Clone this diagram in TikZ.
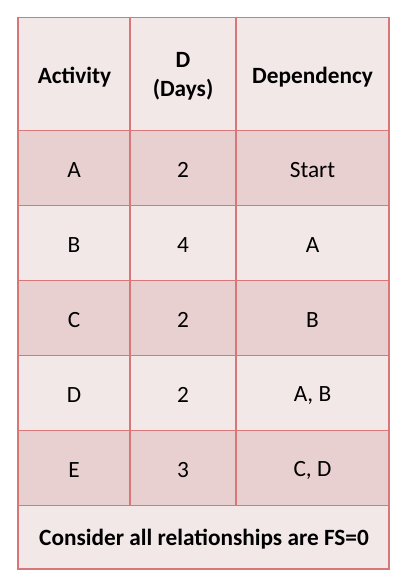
\documentclass[tikz,border=0pt]{standalone}
\usepackage{fontspec}
\setmainfont{Carlito}
\definecolor{lightrow}{HTML}{F3E8E8}
\definecolor{darkrow}{HTML}{E8CFD0}
\definecolor{gridline}{HTML}{D7777A}
\tikzset{
  cell/.style={font=\fontsize{23.3}{29}\selectfont, text=black, align=center, inner sep=0pt},
  head/.style={cell, font=\fontsize{23.3}{29}\selectfont\bfseries},
  grid/.style={draw=gridline, line width=1.5pt}
}
\begin{document}
\begin{tikzpicture}[x=1pt,y=-1pt]
\useasboundingbox (0,0) rectangle (402,581);
% fills
\fill[lightrow] (18,17.5) rectangle (389,130.7);
\fill[darkrow] (18,130.7) rectangle (389,205.7);
\fill[lightrow] (18,205.7) rectangle (389,280.7);
\fill[darkrow] (18,280.7) rectangle (389,355.7);
\fill[lightrow] (18,355.7) rectangle (389,430.7);
\fill[darkrow] (18,430.7) rectangle (389,505.7);
\fill[lightrow] (18,505.7) rectangle (389,569);
% grid
\draw[grid] (18,17.5) rectangle (389,569);
\foreach \yy in {130.7,205.7,280.7,355.7,430.7,505.7}
  \draw[grid] (18,\yy) -- (389,\yy);
\draw[grid] (130,17.5) -- (130,505.7);
\draw[grid] (236,17.5) -- (236,505.7);
% header
\node[head] (h1) at (74.5,77) {Activity};
\node[head] (h2) at (183,76.5) {D\\(Days)};
\node[head] (h3) at (312.5,77) {Dependency};
% rows
\node[cell] (a1) at (74,170.2) {A};
\node[cell] (a2) at (183,170.2) {2};
\node[cell] (a3) at (312.5,170.2) {Start};
\node[cell] (b1) at (74,245.2) {B};
\node[cell] (b2) at (183,245.2) {4};
\node[cell] (b3) at (312.5,245.2) {A};
\node[cell] (c1) at (74,320.2) {C};
\node[cell] (c2) at (183,320.2) {2};
\node[cell] (c3) at (312.5,320.2) {B};
\node[cell] (d1) at (74,395.2) {D};
\node[cell] (d2) at (183,395.2) {2};
\node[cell] (d3) at (312.5,395.2) {A, B};
\node[cell] (e1) at (74,470.2) {E};
\node[cell] (e2) at (183,470.2) {3};
\node[cell] (e3) at (312.5,470.2) {C, D};
\node[head] (note) at (204,539) {Consider all relationships are FS=0};
\end{tikzpicture}
\end{document}
